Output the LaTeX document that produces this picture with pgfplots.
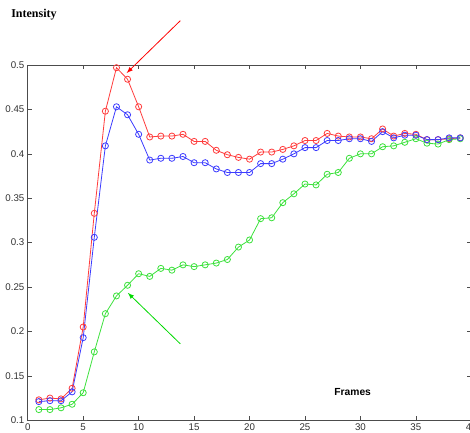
\documentclass[border=0pt]{standalone}
\usepackage{pgfplots}
\pgfplotsset{compat=1.18}
\usepackage{fontspec}
\setmainfont{Liberation Sans}
\newfontfamily\serifbf{Liberation Serif}
\definecolor{cR}{RGB}{255,60,60}
\definecolor{cB}{RGB}{60,60,255}
\definecolor{cG}{RGB}{60,225,60}
\begin{document}
\begin{tikzpicture}
\begin{axis}[
  scale only axis,
  width=332.5pt, height=266.25pt,
  xmin=0, xmax=40, ymin=0.1, ymax=0.5,
  xtick={0,5,...,40},
  ytick={0.1,0.15,...,0.5},
  yticklabels={0.1,0.15,0.2,0.25,0.3,0.35,0.4,0.45,0.5},
  tick align=inside,
  ticks=both,
  xtick pos=both, ytick pos=both,
  major tick length=3pt,
  tick style={black!70, line width=0.5pt},
  axis line style={black!70, line width=0.6pt},
  ticklabel style={font=\fontsize{7.3}{8}\selectfont, text=black!80},
  /pgf/number format/assume math mode=true,
  xticklabel style={yshift=1pt},
  yticklabel style={xshift=1pt},
  clip=false,
  every axis plot/.append style={line width=0.6pt, mark=o, mark size=2.3pt},
]
\coordinate (bl) at (rel axis cs:0,0);
\coordinate (tr) at (rel axis cs:1,1);
\addplot[cR] coordinates {
(1,0.123)(2,0.125)(3,0.124)(4,0.136)(5,0.205)(6,0.333)(7,0.448)(8,0.497)(9,0.484)(10,0.453)
(11,0.419)(12,0.420)(13,0.420)(14,0.422)(15,0.414)(16,0.414)(17,0.404)(18,0.399)(19,0.396)(20,0.394)
(21,0.402)(22,0.402)(23,0.405)(24,0.409)(25,0.415)(26,0.415)(27,0.423)(28,0.420)(29,0.419)(30,0.419)
(31,0.417)(32,0.428)(33,0.420)(34,0.423)(35,0.422)(36,0.416)(37,0.416)(38,0.417)(39,0.418)};
\addplot[cG] coordinates {
(1,0.112)(2,0.112)(3,0.114)(4,0.118)(5,0.131)(6,0.177)(7,0.220)(8,0.240)(9,0.252)(10,0.265)
(11,0.262)(12,0.271)(13,0.269)(14,0.275)(15,0.273)(16,0.275)(17,0.277)(18,0.281)(19,0.295)(20,0.303)
(21,0.327)(22,0.328)(23,0.345)(24,0.355)(25,0.366)(26,0.365)(27,0.377)(28,0.379)(29,0.395)(30,0.400)
(31,0.400)(32,0.408)(33,0.409)(34,0.413)(35,0.417)(36,0.412)(37,0.411)(38,0.416)(39,0.417)};
\addplot[cB] coordinates {
(1,0.121)(2,0.122)(3,0.122)(4,0.132)(5,0.193)(6,0.306)(7,0.409)(8,0.453)(9,0.444)(10,0.422)
(11,0.393)(12,0.395)(13,0.395)(14,0.397)(15,0.390)(16,0.390)(17,0.383)(18,0.379)(19,0.379)(20,0.379)
(21,0.389)(22,0.389)(23,0.394)(24,0.400)(25,0.407)(26,0.407)(27,0.415)(28,0.415)(29,0.417)(30,0.417)
(31,0.414)(32,0.425)(33,0.418)(34,0.421)(35,0.421)(36,0.416)(37,0.416)(38,0.418)(39,0.418)};
\draw[-latex, red, line width=0.6pt] (axis cs:13.76,0.550) -- (axis cs:8.92,0.491);
\draw[-latex, green!85!black, line width=0.6pt] (axis cs:13.76,0.186) -- (axis cs:9.03,0.2434);
\node[font=\fontsize{7.7}{9}\selectfont\bfseries] at (axis cs:29.3,0.1315) {Frames};
\node[font=\serifbf\fontsize{9}{10}\selectfont\bfseries] at (rel axis cs:0.014,1.141) {Intensity};
\end{axis}
\pgfresetboundingbox
\path ([xshift=-20.8pt,yshift=-9pt]bl) rectangle ([xshift=-1pt,yshift=48.75pt]tr);
\end{tikzpicture}
\end{document}
